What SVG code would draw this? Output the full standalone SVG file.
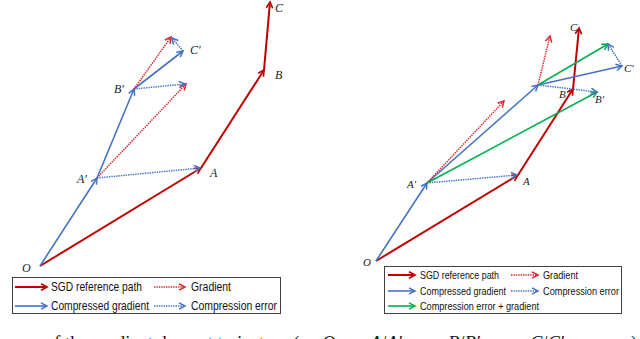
<svg xmlns="http://www.w3.org/2000/svg" width="640" height="339" viewBox="0 0 640 339">
<defs>
<style>
.r{stroke:#C00000;stroke-width:2;fill:none;marker-end:url(#ar)}
.b{stroke:#4472C4;stroke-width:1.6;fill:none;marker-end:url(#ab)}
.g{stroke:#00B050;stroke-width:1.6;fill:none;marker-end:url(#ag)}
.rd{stroke:#E0202A;stroke-width:1.5;stroke-dasharray:1.4 1;fill:none;marker-end:url(#ard)}
.bd{stroke:#4472C4;stroke-width:1.5;stroke-dasharray:1.4 1;fill:none;marker-end:url(#ab)}
.lbl{font-family:"Liberation Serif",serif;font-style:italic;font-size:12px;fill:#222}
.lbl2{font-family:"Liberation Serif",serif;font-style:italic;font-size:11px;fill:#222}
.leg{font-family:"Liberation Sans",Arial,sans-serif;font-size:12px;fill:#111}
.leg2{font-family:"Liberation Sans",Arial,sans-serif;font-size:10.6px;fill:#111}
.box{fill:#fff;stroke:#404040;stroke-width:1}
.cap{font-family:"Liberation Serif",serif;font-size:18.5px;fill:#111}
</style>
<marker id="ar" markerUnits="userSpaceOnUse" markerWidth="10" markerHeight="10" refX="7" refY="4" orient="auto"><path d="M1,0.8 L7,4 L1,7.2" fill="none" stroke="#C00000" stroke-width="1.7"/></marker>
<marker id="ard" markerUnits="userSpaceOnUse" markerWidth="10" markerHeight="10" refX="7" refY="4" orient="auto"><path d="M1,0.8 L7,4 L1,7.2" fill="none" stroke="#E0202A" stroke-width="1.5"/></marker>
<marker id="ab" markerUnits="userSpaceOnUse" markerWidth="10" markerHeight="10" refX="7" refY="4" orient="auto"><path d="M1,0.8 L7,4 L1,7.2" fill="none" stroke="#4472C4" stroke-width="1.5"/></marker>
<marker id="ag" markerUnits="userSpaceOnUse" markerWidth="10" markerHeight="10" refX="7" refY="4" orient="auto"><path d="M1,0.8 L7,4 L1,7.2" fill="none" stroke="#00B050" stroke-width="1.5"/></marker>
</defs>
<rect width="640" height="339" fill="#fff"/>

<g id="connectors">
  <!-- left panel -->
  <line class="r" x1="40" y1="266" x2="201" y2="168"/>
  <line class="r" x1="201" y1="168" x2="264" y2="70"/>
  <line class="r" x1="264" y1="70" x2="270" y2="2"/>
  <line class="b" x1="40" y1="266" x2="97" y2="178"/>
  <line class="b" x1="97" y1="178" x2="134" y2="89"/>
  <line class="b" x1="134" y1="89" x2="183" y2="51"/>
  <line class="rd" x1="97" y1="178" x2="186" y2="84"/>
  <line class="bd" x1="97" y1="178" x2="200" y2="168"/>
  <line class="bd" x1="134" y1="89" x2="185" y2="84"/>
  <line class="rd" x1="134" y1="89" x2="171" y2="37"/>
  <line class="bd" x1="183" y1="51" x2="172" y2="38"/>
  <!-- right panel -->
  <line class="r" x1="376" y1="261" x2="518" y2="175"/>
  <line class="r" x1="518" y1="175" x2="573" y2="89"/>
  <line class="r" x1="573" y1="89" x2="579" y2="28"/>
  <line class="b" x1="376" y1="261" x2="427" y2="183"/>
  <line class="b" x1="427" y1="183" x2="538" y2="85"/>
  <line class="b" x1="538" y1="85" x2="622" y2="66"/>
  <line class="bd" x1="427" y1="183" x2="517" y2="175"/>
  <line class="rd" x1="427" y1="183" x2="504" y2="101"/>
  <line class="g" x1="427" y1="183" x2="597" y2="92"/>
  <line class="rd" x1="538" y1="85" x2="550" y2="36"/>
  <line class="g" x1="538" y1="85" x2="608" y2="44"/>
  <line class="bd" x1="538" y1="85" x2="597" y2="92"/>
  <line class="bd" x1="622" y1="66" x2="608" y2="44"/>
</g>

<g id="node-L-O"><text class="lbl" x="22" y="272">O</text></g>
<g id="node-L-A"><text class="lbl" x="210" y="177">A</text></g>
<g id="node-L-B"><text class="lbl" x="275" y="79">B</text></g>
<g id="node-L-C"><text class="lbl" x="275" y="12">C</text></g>
<g id="node-L-A1"><text class="lbl" x="77" y="183">A′</text></g>
<g id="node-L-B1"><text class="lbl" x="114" y="93">B′</text></g>
<g id="node-L-C1"><text class="lbl" x="190" y="54">C′</text></g>

<g id="node-R-O"><text class="lbl2" x="363" y="266">O</text></g>
<g id="node-R-A"><text class="lbl2" x="523" y="185">A</text></g>
<g id="node-R-B"><text class="lbl2" x="559" y="98">B</text></g>
<g id="node-R-C"><text class="lbl2" x="570" y="31">C</text></g>
<g id="node-R-A1"><text class="lbl2" x="407" y="188">A′</text></g>
<g id="node-R-B1"><text class="lbl2" x="595" y="103">B′</text></g>
<g id="node-R-C1"><text class="lbl2" x="624" y="72">C′</text></g>

<g id="legend-left">
  <rect class="box" x="12.5" y="277.5" width="268" height="36"/>
  <line class="r" x1="15" y1="287" x2="47" y2="287"/>
  <text class="leg" x="51" y="291" textLength="91" lengthAdjust="spacingAndGlyphs">SGD reference path</text>
  <line class="rd" x1="154" y1="287" x2="185" y2="287"/>
  <text class="leg" x="191" y="291" textLength="40" lengthAdjust="spacingAndGlyphs">Gradient</text>
  <line class="b" x1="15" y1="306" x2="47" y2="306"/>
  <text class="leg" x="51" y="310" textLength="98" lengthAdjust="spacingAndGlyphs">Compressed gradient</text>
  <line class="bd" x1="154" y1="306" x2="185" y2="306"/>
  <text class="leg" x="191" y="310" textLength="86" lengthAdjust="spacingAndGlyphs">Compression error</text>
</g>

<g id="legend-right">
  <rect class="box" x="384.5" y="266.5" width="237" height="47"/>
  <line class="r" x1="388" y1="275" x2="415" y2="275"/>
  <text class="leg2" x="420" y="278.5" textLength="79" lengthAdjust="spacingAndGlyphs">SGD reference path</text>
  <line class="rd" x1="511" y1="275" x2="538" y2="275"/>
  <text class="leg2" x="543" y="278.5" textLength="35" lengthAdjust="spacingAndGlyphs">Gradient</text>
  <line class="b" x1="388" y1="291" x2="415" y2="291"/>
  <text class="leg2" x="420" y="294.5" textLength="86" lengthAdjust="spacingAndGlyphs">Compressed gradient</text>
  <line class="bd" x1="511" y1="291" x2="538" y2="291"/>
  <text class="leg2" x="543" y="294.5" textLength="76" lengthAdjust="spacingAndGlyphs">Compression error</text>
  <line class="g" x1="388" y1="306" x2="415" y2="306"/>
  <text class="leg2" x="420" y="309.5" textLength="119" lengthAdjust="spacingAndGlyphs">Compression error + gradient</text>
</g>

<g id="caption">
  <text class="cap" y="349"><tspan x="-5">s</tspan><tspan x="45">of the gradient descent trajectory (</tspan><tspan x="322" font-style="italic">O</tspan><tspan x="343">→</tspan><tspan x="370" font-style="italic">A</tspan><tspan>/</tspan><tspan font-style="italic">A′</tspan><tspan x="420">→</tspan><tspan x="448" font-style="italic">B</tspan><tspan>/</tspan><tspan font-style="italic">B′</tspan><tspan x="502">→</tspan><tspan x="530" font-style="italic">C</tspan><tspan>/</tspan><tspan font-style="italic">C′</tspan><tspan x="584">→ ⋯</tspan><tspan x="631">)</tspan></text>
</g>
</svg>
